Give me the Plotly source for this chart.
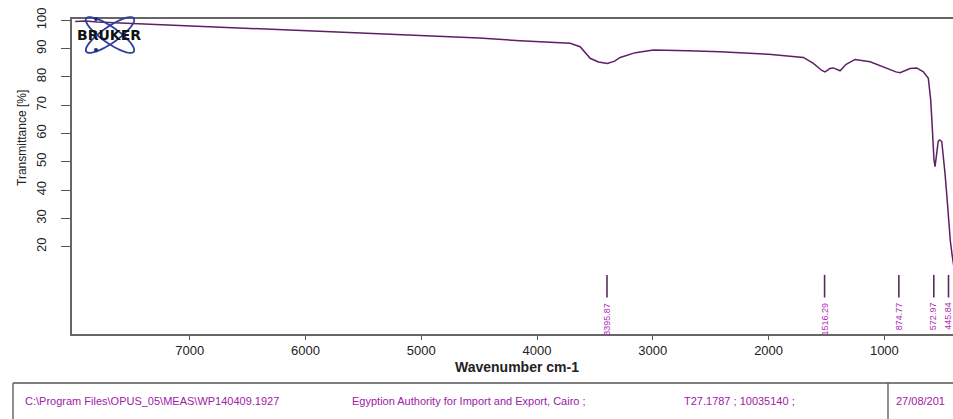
import numpy as np
import plotly.graph_objects as go

# ---- data ----
wavenumber = [7990, 7900, 7800, 7500, 7000, 6500, 6000, 5500, 5000, 4500, 4146, 3900,
              3714, 3628, 3541, 3470, 3392, 3330, 3282, 3150, 2995, 2700, 2419, 2000,
              1699, 1613, 1540, 1512, 1470, 1440, 1410, 1383, 1330, 1253, 1123, 979,
              900, 864, 820, 778, 720, 663, 620, 600, 591, 580, 571, 562, 555, 548,
              535, 525, 515, 504, 490, 476, 460, 447, 430, 413, 400]
transmittance = [99.6, 99.8, 99.4, 98.9, 98.2, 97.3, 96.3, 95.6, 94.7, 93.8, 92.8, 92.4,
                 91.9, 90.7, 86.6, 85.3, 84.8, 85.6, 86.9, 88.6, 89.5, 89.3, 88.9, 88.0,
                 86.9, 84.8, 82.3, 81.8, 83.0, 83.2, 82.8, 82.2, 84.5, 86.2, 85.4, 83.0,
                 81.8, 81.5, 82.3, 83.0, 83.2, 81.8, 79.5, 72.0, 65.9, 56.0, 50.6, 48.3, 51.0, 54.2,
                 57.2, 57.7, 57.6, 57.1, 52.0, 45.9, 38.0, 30.6, 22.0, 16.5, 13.0]
peak_positions = [3395.87, 1516.29, 874.77, 572.97, 445.84]
peak_labels = ["3395.87", "1516.29", "874.77", "572.97", "445.84"]
x_ticks = [7000, 6000, 5000, 4000, 3000, 2000, 1000]
y_ticks = [20, 30, 40, 50, 60, 70, 80, 90, 100]
footer_texts = ["C:\\Program Files\\OPUS_05\\MEAS\\WP140409.1927",
                "Egyption Authority for Import and Export, Cairo ;",
                "T27.1787 ; 10035140 ;",
                "27/08/201"]

W, H = 953, 419
L, R, T, B = 72, 0, 19, 85
PW, PH = W - L - R, H - T - B


def px(x):
    return (x - L) / PW


def py(y):
    return (H - B - y) / PH


fig = go.Figure()

fig.add_trace(go.Scatter(x=wavenumber, y=transmittance, mode="lines",
                         line=dict(color="#5e1f66", width=1.5), showlegend=False,
                         hoverinfo="skip"))

# peak marker segments
seg_x, seg_y = [], []
for p in peak_positions:
    seg_x += [p, p, None]
    seg_y += [2, 10, None]
fig.add_trace(go.Scatter(x=seg_x, y=seg_y, mode="lines",
                         line=dict(color="#5a2a5e", width=1.6), showlegend=False,
                         hoverinfo="skip"))

annotations = []
for p, lab in zip(peak_positions, peak_labels):
    annotations.append(dict(x=p, y=1.0, xref="x", yref="y", text=lab, showarrow=False,
                            textangle=-90, xanchor="center", yanchor="top",
                            font=dict(family="Liberation Sans", size=9, color="#b02ab8")))

# axis titles
annotations.append(dict(x=px(22), y=py(138), xref="paper", yref="paper",
                        text="Transmittance [%]", showarrow=False, textangle=-90,
                        xanchor="center", yanchor="middle",
                        font=dict(family="Liberation Sans", size=12, color="#222")))
annotations.append(dict(x=px(517), y=py(367), xref="paper", yref="paper",
                        text="<b>Wavenumber cm-1</b>", showarrow=False,
                        xanchor="center", yanchor="middle",
                        font=dict(family="Liberation Sans", size=14, color="#222")))

# footer texts
fx = [23, 350, 682, 894]
for t, x0 in zip(footer_texts, fx):
    annotations.append(dict(x=px(x0), y=py(401), xref="paper", yref="paper", text=t,
                            showarrow=False, xanchor="left", yanchor="middle",
                            font=dict(family="Liberation Sans", size=11, color="#a020a8")))

# logo text
annotations.append(dict(x=px(109), y=py(35), xref="paper", yref="paper", text="<b>BRUKER</b>",
                        showarrow=False, xanchor="center", yanchor="middle",
                        font=dict(family="DejaVu Sans", size=14, color="#111")))

shapes = []
# footer box lines
shapes.append(dict(type="line", xref="paper", yref="paper", x0=px(13), x1=px(953),
                   y0=py(383), y1=py(383), line=dict(color="#555", width=1.3)))
shapes.append(dict(type="line", xref="paper", yref="paper", x0=px(13), x1=px(13),
                   y0=py(383), y1=py(420), line=dict(color="#555", width=1.3)))
shapes.append(dict(type="line", xref="paper", yref="paper", x0=px(888), x1=px(888),
                   y0=py(383), y1=py(420), line=dict(color="#555", width=1.3)))

# logo orbits
cx, cy = 110, 35
for ang in (35, -35):
    t = np.linspace(0, 2 * np.pi, 60)
    a, b = 29, 8
    th = np.deg2rad(ang)
    xs = cx + a * np.cos(t) * np.cos(th) - b * np.sin(t) * np.sin(th)
    ys = cy + a * np.cos(t) * np.sin(th) + b * np.sin(t) * np.cos(th)
    path = "M " + " L ".join(f"{px(x):.5f},{py(y):.5f}" for x, y in zip(xs, ys)) + " Z"
    shapes.append(dict(type="path", xref="paper", yref="paper", path=path,
                       line=dict(color="#2c3f9c", width=1.8)))
for dx, dy in ((96, 19), (96, 50)):
    shapes.append(dict(type="circle", xref="paper", yref="paper",
                       x0=px(dx - 2), x1=px(dx + 2), y0=py(dy - 2), y1=py(dy + 2),
                       fillcolor="#1c2a7a", line=dict(width=0)))

fig.update_layout(
    width=W, height=H,
    margin=dict(l=L, r=R, t=T, b=B),
    paper_bgcolor="white", plot_bgcolor="white",
    annotations=annotations, shapes=shapes,
    xaxis=dict(range=[8017, 407], tickvals=x_ticks, ticks="outside", ticklen=4,
               tickcolor="#555", showline=True, linecolor="#666", linewidth=1.5,
               mirror=True, showgrid=False, zeroline=False,
               tickfont=dict(family="Liberation Sans", size=13, color="#222"),
               tickprefix="<b>", ticksuffix="</b>"),
    yaxis=dict(range=[-10.9, 100.5], tickvals=y_ticks, ticks="outside", ticklen=9,
               tickcolor="#555", showline=True, linecolor="#666", linewidth=1.5,
               showgrid=False, zeroline=False, tickangle=-90, ticklabelstandoff=10,
               tickfont=dict(family="Liberation Sans", size=13, color="#222"),
               tickprefix="<b>", ticksuffix="</b>"),
)

fig.write_html("out.html", config={"displayModeBar": False},
               post_script="document.body.style.margin='0';document.body.style.padding='0';")
